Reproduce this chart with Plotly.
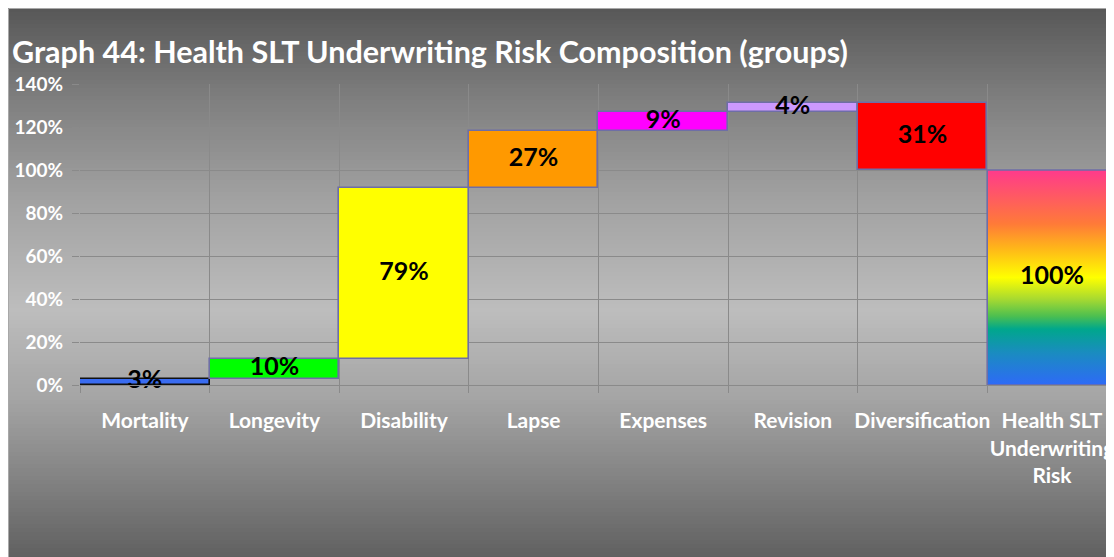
import plotly.graph_objects as go

# ---------------- data ----------------
categories = ["Mortality", "Longevity", "Disability", "Lapse", "Expenses",
              "Revision", "Diversification", "Health SLT<br>Underwriting<br>Risk"]
steps = [2.6, 9.6, 79.2, 26.8, 8.7, 4.3, -31.2]   # waterfall increments (%)
total = 100.0                                     # final bar (%)
bar_colors = ["#3a6cf0", "#00ff00", "#ffff00", "#ff9900", "#ff00ff", "#cc99ff", "#ff0000"]
y_ticks = [0, 20, 40, 60, 80, 100, 120, 140]
y_tick_text = [f"{v}%" for v in y_ticks]
title_text = "Graph 44: Health SLT Underwriting Risk Composition (groups)"

# ---------------- derived ----------------
bases, tops = [], []
run = 0.0
for s in steps:
    bases.append(run if s >= 0 else run + s)
    run += s
    tops.append(run)
n = len(categories)
x_idx = list(range(n))
step_x = x_idx[:len(steps)]
tot_x = x_idx[-1]

# Figure placed inside the page's default 8px body margin; overflow is clipped by the window
W, H = 1114, 557
ML, MR, MT, MB = 72, 0, 76, 180
plotW, plotH = W - ML - MR, H - MT - MB
FONT = "Lato"
cat_px = 129.6                      # width of one category in pixels
x_max = -0.5 + plotW / cat_px

def px_to_paper_x(px):
    return (px - ML) / plotW

def px_to_paper_y(py):
    return (H - MB - py) / plotH

fig = go.Figure()

# Bars for steps
fig.add_trace(go.Bar(
    x=step_x, y=[abs(s) for s in steps], base=bases, width=1.0,
    marker=dict(color=bar_colors,
                line=dict(color=["#111111"] + ["#6e6ea6"] * (len(steps) - 1), width=1.6)),
    hoverinfo="skip", showlegend=False,
))

# Total bar with rainbow gradient
fig.add_trace(go.Scatter(
    x=[tot_x - 0.5, tot_x + 0.5, tot_x + 0.5, tot_x - 0.5, tot_x - 0.5],
    y=[0, 0, total, total, 0],
    mode="lines", fill="toself",
    line=dict(color="#6e6ea6", width=1.6),
    fillgradient=dict(type="vertical", colorscale=[
        [0.0, "#2e6af7"], [0.15, "#1a8cc0"], [0.26, "#00a78c"], [0.32, "#4cbf50"],
        [0.40, "#a8da30"], [0.50, "#ffff00"], [0.64, "#ffb41a"], [0.75, "#ff7a38"],
        [0.875, "#ff5a62"], [1.0, "#ff3a8c"]]),
    hoverinfo="skip", showlegend=False,
))

# Data labels
lbl_x = step_x + [tot_x]
lbl_y = [(b + t) / 2 if s >= 0 else (t + (t - s)) / 2 for b, t, s in zip(bases, tops, steps)] + [total / 2]
lbl_t = [f"{abs(s):.0f}%" for s in steps] + [f"{total:.0f}%"]
fig.add_trace(go.Scatter(
    x=lbl_x, y=lbl_y, text=lbl_t, mode="text",
    textfont=dict(family=FONT, size=25, color="black", weight="bold"),
    cliponaxis=False, hoverinfo="skip", showlegend=False,
))

# Background gradient (whole figure) as horizontal strips; stops given in figure pixels
stops = [(0, 0x57), (92, 0x7f), (192, 0xa2), (302, 0xbd), (392, 0xa4), (472, 0x82), (552, 0x5f)]
def gray_at(py):
    for (y0, g0), (y1, g1) in zip(stops[:-1], stops[1:]):
        if y0 <= py <= y1:
            return g0 + (g1 - g0) * (py - y0) / (y1 - y0)
    return stops[-1][1]

shapes = []
strip = 4
py = 0
while py < H:
    g = int(round(gray_at(py + strip / 2)))
    shapes.append(dict(type="rect", xref="paper", yref="paper", layer="below",
                       x0=px_to_paper_x(-2), x1=px_to_paper_x(W + 2),
                       y0=px_to_paper_y(py + strip + 0.6), y1=px_to_paper_y(py),
                       fillcolor=f"rgb({g},{g},{g})", line=dict(width=0)))
    py += strip
shapes.append(dict(type="rect", xref="paper", yref="paper", layer="below",
                   x0=px_to_paper_x(0.5), x1=px_to_paper_x(W + 5),
                   y0=px_to_paper_y(H + 5), y1=px_to_paper_y(0.5),
                   fillcolor="rgba(0,0,0,0)", line=dict(color="#a8a8a8", width=1)))

fig.update_layout(
    width=W, height=H,
    margin=dict(l=ML, r=MR, t=MT, b=MB, pad=0),
    paper_bgcolor="white", plot_bgcolor="rgba(0,0,0,0)",
    shapes=shapes,
    title=dict(text=title_text, xref="container", yref="container",
               x=4 / W, xanchor="left", y=1 - 44 / H, yanchor="middle",
               font=dict(family=FONT, size=30.5, color="white", weight="bold")),
    bargap=0, showlegend=False,
    xaxis=dict(range=[-0.5, x_max], tickmode="array", tickvals=x_idx,
               ticktext=categories, tickangle=0, showgrid=False, ticks="",
               ticklabelstandoff=17, ticklabeloverflow="allow", zeroline=False,
               showline=True, linecolor="#8a8a8a", linewidth=1,
               tickfont=dict(family=FONT, size=21, color="white", weight="bold"),
               minor=dict(tickmode="array", tickvals=[i - 0.5 for i in range(n + 1)],
                          showgrid=True, gridcolor="#8a8a8a", gridwidth=1,
                          ticks="outside", ticklen=7, tickcolor="#8a8a8a", tickwidth=1),
               fixedrange=True),
    yaxis=dict(range=[0, 140], tickmode="array", tickvals=y_ticks, ticktext=y_tick_text,
               showgrid=True, gridcolor="#8a8a8a", gridwidth=1, zeroline=False,
               ticks="outside", ticklen=7, tickcolor="#8a8a8a", ticklabelstandoff=5,
               tickfont=dict(family=FONT, size=19, color="white", weight="bold"),
               fixedrange=True),
)

fig.write_html("out.html",
               post_script="document.documentElement.style.overflow='hidden';"
                           "document.body.style.overflow='hidden';")
